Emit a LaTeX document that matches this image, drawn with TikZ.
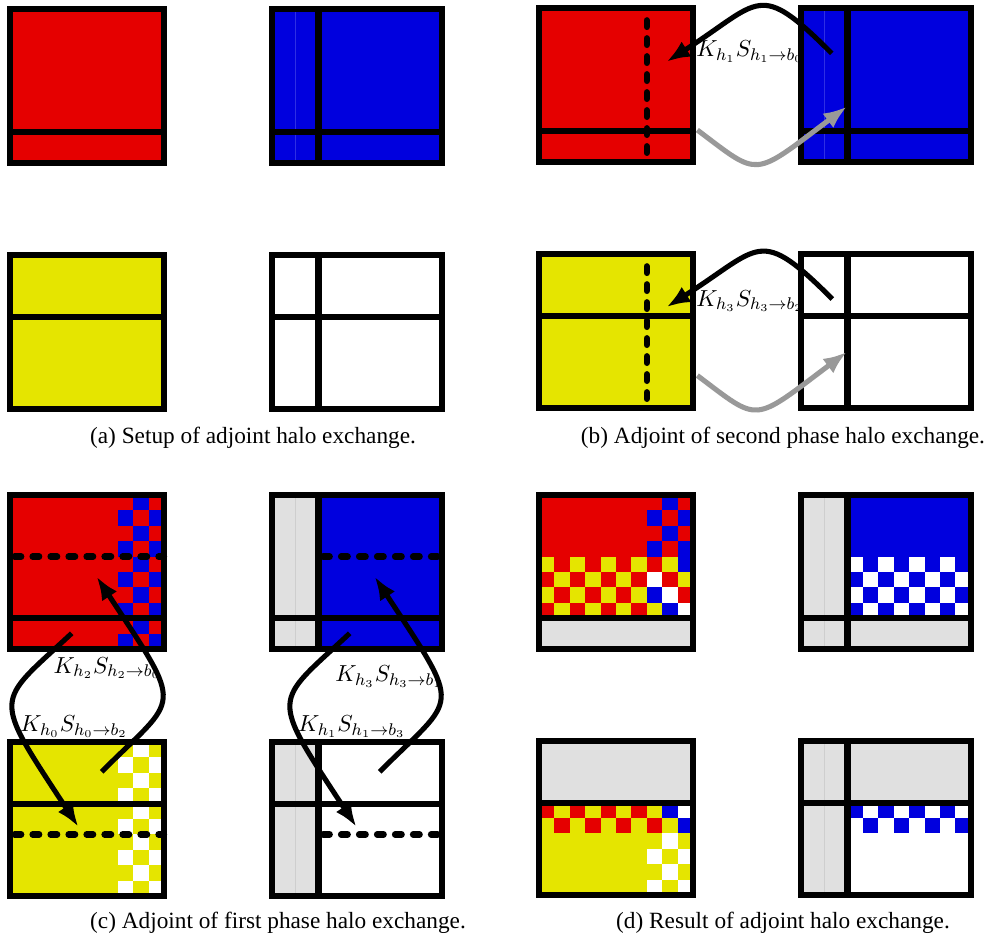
\documentclass[tikz,border=0pt]{standalone}
\usepackage{amsmath, amssymb}
\usepackage{fontspec}
\setmainfont{Liberation Serif}
\usepackage{tikz}
\usepackage{xcolor}
\usetikzlibrary{arrows.meta}

\definecolor{procred}{RGB}{229,0,0}
\definecolor{procblue}{RGB}{0,0,222}
\definecolor{procyellow}{RGB}{229,229,0}
\definecolor{halogray}{RGB}{224,224,224}
\definecolor{fwdgray}{RGB}{153,153,153}

% border and halo cuts of one subdomain: width, halo column, halo row
\newcommand{\halobox}[3]{%
  \ifnum#2>0 \draw[domainline] (#2,0) -- (#2,10);\fi
  \draw[domainline] (0,#3) -- (#1,#3);
  \draw[domainline] (0,0) rectangle (#1,10);}

% checkerboard: colour, first/last column, first/last row, parity
\newcommand{\checker}[6]{%
  \foreach \ci in {#2,...,#3}{\foreach \cj in {#4,...,#5}{%
    \pgfmathtruncatemacro{\cpar}{mod(\ci+\cj,2)}%
    \ifnum\cpar=#6 \fill[#1] (\ci,\cj) rectangle ++(1,1);\fi}}}

\begin{document}
\begin{tikzpicture}[x=0.4725pt, y=-0.4725pt,
  every node/.style={font=\fontsize{11}{13}\selectfont},
  lab/.style={anchor=base west, inner sep=0pt, font=\fontsize{10.8}{13}\selectfont},
  domainline/.style={line width=2.85pt},
  faintline/.style={line width=0.5pt},
  cutline/.style={line width=3pt, line cap=round, dash pattern=on 3.1pt off 5.4pt},
  adjarrow/.style={line width=2.4pt, -{Latex[length=11pt, width=8.5pt]}},
  fwdarrow/.style={adjarrow, draw=fwdgray}]
  \useasboundingbox (0,0) rectangle (992,943);

  % (a) Setup
  \begin{scope}[shift={(10,9)}, scale=15.4]
    \fill[procred] (0,0) rectangle (10,10);
    \halobox{10}{0}{8}
  \end{scope}
  \begin{scope}[shift={(272.3,9)}, scale=15.4]
    \fill[procblue] (0,0) rectangle (11,10);
    \draw[faintline, procblue!82!white] (1.5,0) -- (1.5,10);
    \halobox{11}{3}{8}
  \end{scope}
  \begin{scope}[shift={(10,255)}, scale=15.4]
    \fill[procyellow] (0,0) rectangle (10,10);
    \halobox{10}{0}{4}
  \end{scope}
  \begin{scope}[shift={(272.3,255)}, scale=15.4]
    \halobox{11}{3}{4}
  \end{scope}
  \node[anchor=base] (cap-a) at (253,443) {(a) Setup of adjoint halo exchange.};

  % (b) Second phase
  \begin{scope}[shift={(539,8)}, scale=15.4]
    \fill[procred] (0,0) rectangle (10,10);
    \halobox{10}{0}{8}
    \draw[cutline] (7,0.8) -- (7,9.5);
  \end{scope}
  \begin{scope}[shift={(801.3,8)}, scale=15.4]
    \fill[procblue] (0,0) rectangle (11,10);
    \draw[faintline, procblue!82!white] (1.5,0) -- (1.5,10);
    \halobox{11}{3}{8}
  \end{scope}
  \begin{scope}[shift={(539,254)}, scale=15.4]
    \fill[procyellow] (0,0) rectangle (10,10);
    \halobox{10}{0}{4}
    \draw[cutline] (7,0.8) -- (7,9.5);
  \end{scope}
  \begin{scope}[shift={(801.3,254)}, scale=15.4]
    \halobox{11}{3}{4}
  \end{scope}
  \coordinate (b-h1) at (831.7,53.3);
  \coordinate (b-b0) at (666.7,61.7);
  \coordinate (b-red) at (697.3,130);
  \coordinate (b-blue) at (846.7,106.7);
  \coordinate (b-h3) at (832.3,299);
  \coordinate (b-b2) at (666.7,307);
  \coordinate (b-yel) at (697.3,375.5);
  \coordinate (b-white) at (846.7,352);
  \draw[adjarrow] (b-h1) .. controls (757.7,-20.7) and (761.5,1) .. (b-b0);
  \draw[fwdarrow] (b-red) .. controls (760.6,177.5) and (751.4,178.2) .. (b-blue);
  \draw[adjarrow] (b-h3) .. controls (758.3,225) and (761.5,247) .. (b-b2);
  \draw[fwdarrow] (b-yel) .. controls (760.6,423) and (751.4,423.5) .. (b-white);
  \node[lab] (lab-h1) at (696,56.7) {$K_{h_1}S_{h_1\to b_0}$};
  \node[lab] (lab-h3) at (696,306) {$K_{h_3}S_{h_3\to b_2}$};
  \node[anchor=base] (cap-b) at (783,443) {(b) Adjoint of second phase halo exchange.};

  % (c) First phase
  \begin{scope}[shift={(10,495)}, scale=15.4]
    \fill[procred] (0,0) rectangle (10,10);
    \checker{procblue}{7}{9}{0}{9}{0}
    \halobox{10}{0}{8}
    \draw[cutline] (0.3,4) -- (10,4);
  \end{scope}
  \begin{scope}[shift={(272.3,495)}, scale=15.4]
    \fill[halogray] (0,0) rectangle (3,10);
    \fill[procblue] (3,0) rectangle (11,10);
    \draw[faintline, black!8!halogray] (1.5,0) -- (1.5,10);
    \halobox{11}{3}{8}
    \draw[cutline] (3.3,4) -- (11,4);
  \end{scope}
  \begin{scope}[shift={(10,742)}, scale=15.4]
    \fill[procyellow] (0,0) rectangle (10,10);
    \checker{white}{7}{9}{0}{9}{0}
    \halobox{10}{0}{4}
    \draw[cutline] (0.3,6) -- (10,6);
  \end{scope}
  \begin{scope}[shift={(272.3,742)}, scale=15.4]
    \fill[halogray] (0,0) rectangle (3,10);
    \draw[faintline, black!8!halogray] (1.5,0) -- (1.5,10);
    \halobox{11}{3}{4}
    \draw[cutline] (3.3,6) -- (11,6);
  \end{scope}
  \coordinate (c-h2) at (101.7,771.7);
  \coordinate (c-b0) at (96.7,576.7);
  \coordinate (c-h0) at (71.7,633.3);
  \coordinate (c-b2) at (78.3,826.7);
  \coordinate (c-h3) at (379.7,771.7);
  \coordinate (c-b1) at (374.7,576.7);
  \coordinate (c-h1) at (349.7,633.3);
  \coordinate (c-b3) at (356.3,826.7);
  \draw[adjarrow] (c-h2) .. controls (179.5,693.9) and (185.6,712.5) .. (c-b0);
  \draw[adjarrow] (c-h0) .. controls (-5.2,705) and (-9.3,692.9) .. (c-b2);
  \draw[adjarrow] (c-h3) .. controls (457.5,693.9) and (463.6,712.5) .. (c-b1);
  \draw[adjarrow] (c-h1) .. controls (272.8,705) and (268.7,692.9) .. (c-b3);
  \node[lab] (lab-h2) at (53.3,673) {$K_{h_2}S_{h_2\to b_0}$};
  \node[lab] (lab-h0) at (20,731.7) {$K_{h_0}S_{h_0\to b_2}$};
  \node[lab] (lab-h3c) at (335,681.7) {$K_{h_3}S_{h_3\to b_1}$};
  \node[lab] (lab-h1c) at (297.7,731.7) {$K_{h_1}S_{h_1\to b_3}$};
  \node[anchor=base] (cap-c) at (278,928) {(c) Adjoint of first phase halo exchange.};

  % (d) Result
  \begin{scope}[shift={(539,495)}, scale=15.4]
    \fill[procred] (0,0) rectangle (10,8);
    \fill[halogray] (0,8) rectangle (10,10);
    \checker{procblue}{7}{9}{0}{3}{0}
    \checker{procyellow}{0}{6}{4}{7}{0}
    \foreach \i/\j/\c in {8/4/procyellow, 9/4/procblue, 7/5/white, 9/5/procyellow,
      7/6/procblue, 8/6/white, 7/7/procyellow, 8/7/procblue, 9/7/white}
      \fill[\c] (\i,\j) rectangle ++(1,1);
    \halobox{10}{0}{8}
  \end{scope}
  \begin{scope}[shift={(801.3,495)}, scale=15.4]
    \fill[halogray] (0,0) rectangle (3,10);
    \fill[procblue] (3,0) rectangle (11,8);
    \fill[halogray] (3,8) rectangle (11,10);
    \checker{white}{3}{10}{4}{7}{1}
    \draw[faintline, black!8!halogray] (1.5,0) -- (1.5,10);
    \halobox{11}{3}{8}
  \end{scope}
  \begin{scope}[shift={(539,741)}, scale=15.4]
    \fill[halogray] (0,0) rectangle (10,4);
    \fill[procyellow] (0,4) rectangle (10,10);
    \checker{procred}{0}{7}{4}{5}{0}
    \foreach \i/\j/\c in {8/4/procblue, 9/4/white, 9/5/procblue}
      \fill[\c] (\i,\j) rectangle ++(1,1);
    \checker{white}{7}{9}{6}{9}{0}
    \halobox{10}{0}{4}
  \end{scope}
  \begin{scope}[shift={(801.3,741)}, scale=15.4]
    \fill[halogray] (0,0) rectangle (3,10);
    \fill[halogray] (3,0) rectangle (11,4);
    \checker{procblue}{3}{10}{4}{5}{1}
    \draw[faintline, black!8!halogray] (1.5,0) -- (1.5,10);
    \halobox{11}{3}{4}
  \end{scope}
  \node[anchor=base] (cap-d) at (783,928) {(d) Result of adjoint halo exchange.};
\end{tikzpicture}
\end{document}
